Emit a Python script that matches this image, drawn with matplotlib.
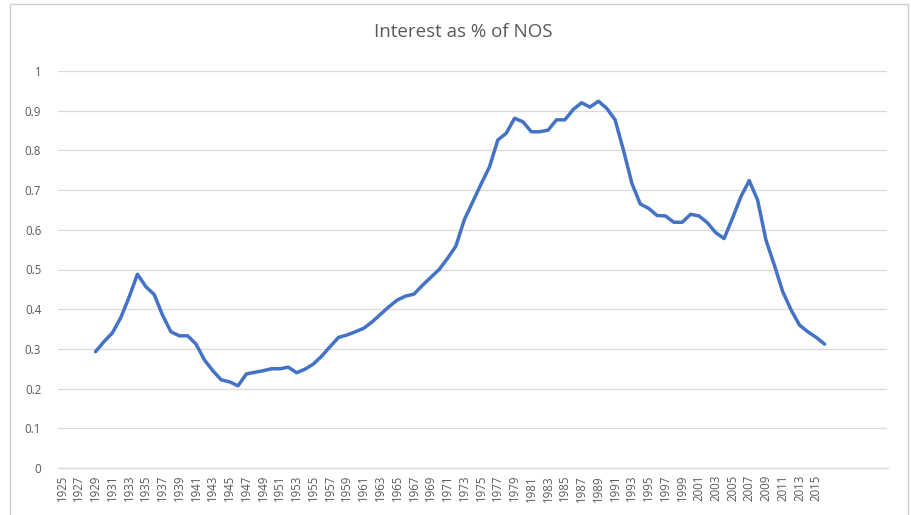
import numpy as np
import matplotlib
matplotlib.use("Agg")
import matplotlib.pyplot as plt
from matplotlib.patches import Rectangle


# ========================================================= #
# ===  data                                             === #
# ========================================================= #
first_year = 1925
n_slots    = 99                      # category slots on the axis (1925..2023)
years      = list( range( 1929, 2017 ) )
interest   = [ 0.293, 0.318, 0.340, 0.378, 0.430, 0.488, 0.457, 0.437, 0.385, 0.343,
               0.333, 0.333, 0.312, 0.272, 0.245, 0.222, 0.217, 0.207, 0.237, 0.241,
               0.245, 0.250, 0.250, 0.254, 0.240, 0.249, 0.262, 0.282, 0.306, 0.329,
               0.335, 0.343, 0.352, 0.368, 0.387, 0.406, 0.423, 0.433, 0.438, 0.460,
               0.480, 0.500, 0.528, 0.559, 0.625, 0.670, 0.715, 0.758, 0.826, 0.843,
               0.881, 0.872, 0.847, 0.847, 0.851, 0.877, 0.877, 0.903, 0.920, 0.909,
               0.924, 0.906, 0.877, 0.800, 0.717, 0.665, 0.654, 0.636, 0.635, 0.619,
               0.619, 0.639, 0.635, 0.618, 0.593, 0.578, 0.629, 0.683, 0.724, 0.675,
               0.574, 0.511, 0.444, 0.398, 0.360, 0.343, 0.329, 0.312 ]
tick_years = list( range( 1925, 2016, 2 ) )
y_ticks    = [ 0.0, 0.1, 0.2, 0.3, 0.4, 0.5, 0.6, 0.7, 0.8, 0.9, 1.0 ]
y_labels   = [ "0", "0.1", "0.2", "0.3", "0.4", "0.5", "0.6", "0.7", "0.8", "0.9", "1" ]
title      = "Interest as % of NOS"


# ========================================================= #
# ===  plot                                             === #
# ========================================================= #
plt.rcParams["font.family"] = [ "Open Sans", "DejaVu Sans" ]
txtcol  = "#595959"
gridcol = "#D9D9D9"

fig = plt.figure( figsize=(9.12, 5.15), dpi=100 )
fig.patches.append( Rectangle( (10/912, -0.01), 898/912, 1.0 - 4/515 + 0.01,
                               transform=fig.transFigure, fill=False,
                               edgecolor="#D0D0D0", linewidth=1.0 ) )

ax = fig.add_axes( [ 57.8/912, 47/515, (887.5-57.8)/912, (468-71)/515 ] )

xpos = [ y - first_year for y in years ]
ax.plot( xpos, interest, color="#4472C4", linewidth=2.5, solid_joinstyle="round",
         solid_capstyle="round", zorder=3 )

# --- axis settings --- #
ax.set_xlim( -0.5, n_slots - 0.5 )
ax.set_ylim( 0.0, 1.0 )
ax.set_yticks( y_ticks )
ax.set_yticklabels( y_labels )
ax.set_xticks( [ t - first_year for t in tick_years ] )
ax.set_xticklabels( [ str(t) for t in tick_years ], rotation=90 )
ax.tick_params( axis="both", length=0, labelsize=8.3, colors=txtcol )
ax.tick_params( axis="y", pad=12 )
ax.tick_params( axis="x", pad=5 )

ax.grid( axis="y", color=gridcol, linewidth=0.9 )
ax.set_axisbelow( True )
for s in [ "top", "right", "left" ]:
    ax.spines[s].set_visible( False )
ax.spines["bottom"].set_color( gridcol )
ax.spines["bottom"].set_linewidth( 0.9 )

fig.text( 463/912, 1 - 32/515, title, ha="center", va="center",
          fontsize=13.5, color=txtcol )

fig.savefig( "out.png", dpi=100 )
